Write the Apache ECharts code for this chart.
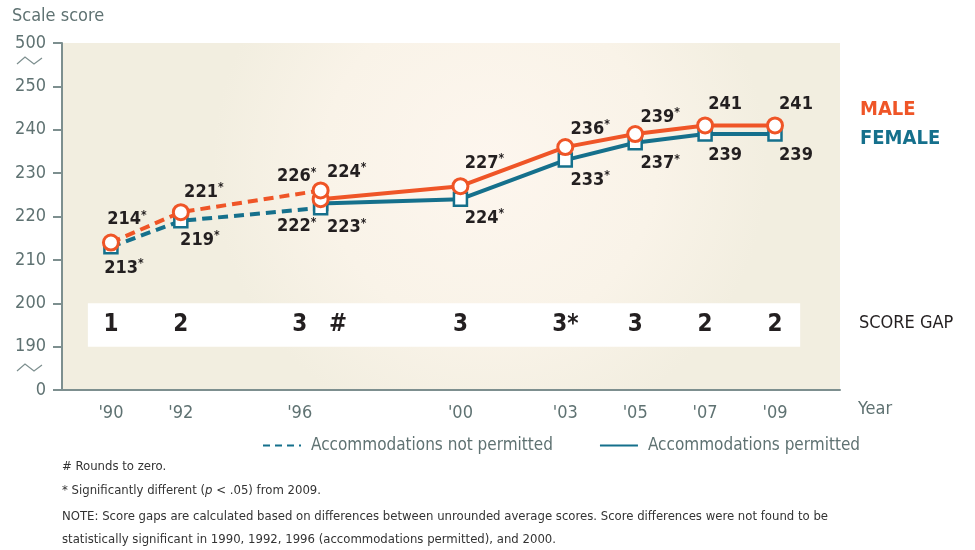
<!DOCTYPE html>
<html>
<head>
<meta charset="utf-8">
<script src="https://cdn.jsdelivr.net/npm/echarts@6/dist/echarts.min.js"></script>
<style>
	html, body { margin: 0; padding: 0; background: #fff; }
	#chart { width: 975px; height: 550px; }
</style>
</head>
<body>
<div id="chart"></div>
<script>
	// data
	var years = [1990, 1992, 1996, 2000, 2003, 2005, 2007, 2009];
	var yearLabels = ["'90", "'92", "'96", "'00", "'03", "'05", "'07", "'09"];
	var yearLabelPos = [1990, 1992, 1995.4, 2000, 2003, 2005, 2007, 2009];

	var maleNotPermitted = [214, 221, 226];          // 1990, 1992, 1996
	var maleNotPermittedSig = [true, true, true];
	var malePermitted = [224, 227, 236, 239, 241, 241];   // 1996 .. 2009
	var malePermittedSig = [true, true, true, true, false, false];

	var femaleNotPermitted = [213, 219, 222];
	var femaleNotPermittedSig = [true, true, true];
	var femalePermitted = [223, 224, 233, 237, 239, 239];
	var femalePermittedSig = [true, true, true, true, false, false];

	var gapYears = [1990, 1992, 1995.4, 1996.5, 2000, 2003, 2005, 2007, 2009];
	var gapText = ['1', '2', '3', '#', '3', '3*', '3', '2', '2'];

	var yTicks = [180, 190, 200, 210, 220, 230, 240, 250, 260];
	var yTickLabels = ['0', '190', '200', '210', '220', '230', '240', '250', '500'];

	var npYears = years.slice(0, 3);
	var pYears = years.slice(2);

	var FONT = "'Liberation Sans Narrow','DejaVu Sans Condensed',sans-serif";
	var ORANGE = '#ef5527';
	var TEAL = '#15708c';
	var AXIS = '#7d8f8f';
	var GRAYTXT = '#5f7272';

	// label offsets (px) from each point
	var maleNPOff = [[16, -23], [23, -20], [-24, -14]];
	var malePOff = [[26, -27], [24, -23], [25, -18], [25, -17], [20, -21], [21, -21]];
	var femaleNPOff = [[13, 21], [19, 19], [-24, 19]];
	var femalePOff = [[26, 24], [24, 19], [25, 20], [25, 21], [20, 21], [21, 21]];

	function build(xs, vals, sig, offs) {
		var out = [];
		for (var i = 0; i < vals.length; i++) {
			out.push({
				value: [xs[i], vals[i]],
				label: {
					offset: offs[i],
					formatter: '{v|' + vals[i] + '}' + (sig[i] ? '{s|*}' : '')
				}
			});
		}
		return out;
	}

	var labelRich = {
		v: { fontFamily: FONT, fontWeight: 'bold', fontSize: 18, color: '#231f20' },
		s: { fontFamily: FONT, fontWeight: 'bold', fontSize: 12, color: '#231f20', verticalAlign: 'top', padding: [0, 0, 8, 0] }
	};
	var pointLabel = { show: true, position: 'inside', rich: labelRich };

	var chart = echarts.init(document.getElementById('chart'));

	var option = {
		backgroundColor: '#fff',
		animation: false,
		grid: {
			left: 62, right: 135, top: 43, bottom: 160,
			show: true,
			borderWidth: 0,
			backgroundColor: new echarts.graphic.RadialGradient(0.55, 0.35, 0.8, [
				{ offset: 0, color: '#fdf6ee' },
				{ offset: 0.6, color: '#f9f3e8' },
				{ offset: 1, color: '#f2eee0' }
			])
		},
		xAxis: {
			type: 'value',
			min: 1988.6,
			max: 2010.86,
			splitLine: { show: false },
			axisLine: { show: true, lineStyle: { color: AXIS, width: 2 } },
			axisTick: { show: false },
			axisLabel: {
				customValues: yearLabelPos,
				formatter: function (v) {
					var idx = yearLabelPos.indexOf(v);
					return idx >= 0 ? yearLabels[idx] : '';
				},
				margin: 14,
				color: GRAYTXT,
				fontFamily: FONT,
				fontSize: 18
			}
		},
		yAxis: {
			type: 'value',
			min: 180,
			max: 260,
			interval: 10,
			splitLine: { show: false },
			axisLine: { show: true, lineStyle: { color: AXIS, width: 2 } },
			axisTick: { show: true, length: 9, lineStyle: { color: AXIS, width: 2 } },
			axisLabel: {
				formatter: function (v) {
					var idx = yTicks.indexOf(v);
					return idx >= 0 ? yTickLabels[idx] : '';
				},
				margin: 16,
				color: GRAYTXT,
				fontFamily: FONT,
				fontSize: 18
			}
		},
		legend: {
			left: 257,
			top: 432,
			itemWidth: 38,
			itemHeight: 14,
			itemGap: 46,
			itemStyle: { opacity: 0 },
			textStyle: { color: GRAYTXT, fontFamily: FONT, fontSize: 17, padding: [0, 0, 0, 5] },
			data: ['Accommodations not permitted', 'Accommodations permitted']
		},
		series: [
			{
				// score-gap band and numbers
				type: 'scatter',
				silent: true,
				symbolSize: 0,
				z: 1,
				itemStyle: { opacity: 1 },
				data: gapYears.map(function (y, i) { return { value: [y, 195], name: gapText[i] }; }),
				label: {
					show: true,
					position: 'inside',
					formatter: '{b}',
					fontFamily: FONT,
					fontWeight: 'bold',
					fontSize: 24,
					color: '#231f20'
				},
				markArea: {
					silent: true,
					itemStyle: { color: '#ffffff' },
					data: [[{ coord: [1989.34, 200] }, { coord: [2009.72, 190] }]]
				}
			},
			{
				name: 'Accommodations not permitted',
				type: 'line',
				data: [],
				symbol: 'none',
				itemStyle: { color: TEAL },
				lineStyle: { color: TEAL, width: 3, type: [7, 5] }
			},
			{
				name: 'Accommodations permitted',
				type: 'line',
				data: [],
				symbol: 'none',
				itemStyle: { color: TEAL },
				lineStyle: { color: TEAL, width: 3 }
			},
			{
				name: 'Female not permitted',
				type: 'line',
				z: 3,
				data: build(npYears, femaleNotPermitted, femaleNotPermittedSig, femaleNPOff),
				symbol: 'none',
				lineStyle: { color: TEAL, width: 4, type: [10, 6] }
			},
			{
				name: 'Female permitted',
				type: 'line',
				z: 3,
				data: build(pYears, femalePermitted, femalePermittedSig, femalePOff),
				symbol: 'rect',
				symbolSize: 13,
				showAllSymbol: true,
				itemStyle: { color: '#fff', borderColor: TEAL, borderWidth: 2.5 },
				lineStyle: { color: TEAL, width: 4 },
				label: pointLabel
			},
			{
				name: 'Female not permitted markers',
				type: 'line',
				z: 3,
				data: build(npYears, femaleNotPermitted, femaleNotPermittedSig, femaleNPOff),
				symbol: 'rect',
				symbolSize: 13,
				itemStyle: { color: '#fff', borderColor: TEAL, borderWidth: 2.5 },
				lineStyle: { width: 0 },
				label: pointLabel
			},
			{
				name: 'Male not permitted',
				type: 'line',
				z: 4,
				data: build(npYears, maleNotPermitted, maleNotPermittedSig, maleNPOff),
				symbol: 'none',
				lineStyle: { color: ORANGE, width: 4, type: [10, 6] }
			},
			{
				name: 'Male permitted',
				type: 'line',
				z: 4,
				data: build(pYears, malePermitted, malePermittedSig, malePOff),
				symbol: 'circle',
				symbolSize: 15,
				itemStyle: { color: '#fff', borderColor: ORANGE, borderWidth: 3 },
				lineStyle: { color: ORANGE, width: 4 },
				label: pointLabel
			},
			{
				name: 'Male not permitted markers',
				type: 'line',
				z: 5,
				data: build(npYears, maleNotPermitted, maleNotPermittedSig, maleNPOff),
				symbol: 'circle',
				symbolSize: 15,
				itemStyle: { color: '#fff', borderColor: ORANGE, borderWidth: 3 },
				lineStyle: { width: 0 },
				label: pointLabel
			}
		],
		graphic: [
			{ type: 'text', left: 12, top: 7, style: { text: 'Scale score', fill: GRAYTXT, font: '18px ' + FONT } },
			{ type: 'polyline', shape: { points: [[17, 64], [25, 57], [34, 64], [42, 58]] }, style: { stroke: AXIS, lineWidth: 1.2, fill: null } },
			{ type: 'polyline', shape: { points: [[17, 371], [25, 364], [34, 371], [42, 365]] }, style: { stroke: AXIS, lineWidth: 1.2, fill: null } },
			{ type: 'text', left: 860, top: 100, style: { text: 'MALE', fill: ORANGE, font: 'bold 20px ' + FONT } },
			{ type: 'text', left: 860, top: 129, style: { text: 'FEMALE', fill: TEAL, font: 'bold 20px ' + FONT } },
			{ type: 'text', left: 859, top: 314, style: { text: 'SCORE GAP', fill: '#231f20', font: '18px ' + FONT } },
			{ type: 'text', left: 858, top: 400, style: { text: 'Year', fill: GRAYTXT, font: '18px ' + FONT } },
			{ type: 'text', left: 62, top: 460, style: { text: '# Rounds to zero.', fill: '#333', font: '13px ' + FONT } },
			{
				type: 'text', left: 62, top: 484,
				style: {
					text: '* Significantly different ({i|p} < .05) from 2009.',
					fill: '#333', font: '13px ' + FONT,
					rich: { i: { fontStyle: 'italic', fontFamily: FONT, fontSize: 13, fill: '#333' } }
				}
			},
			{ type: 'text', left: 62, top: 510, style: { text: 'NOTE: Score gaps are calculated based on differences between unrounded average scores. Score differences were not found to be', fill: '#333', font: '13px ' + FONT } },
			{ type: 'text', left: 62, top: 533, style: { text: 'statistically significant in 1990, 1992, 1996 (accommodations permitted), and 2000.', fill: '#333', font: '13px ' + FONT } }
		]
	};

	chart.setOption(option);
</script>
</body>
</html>
